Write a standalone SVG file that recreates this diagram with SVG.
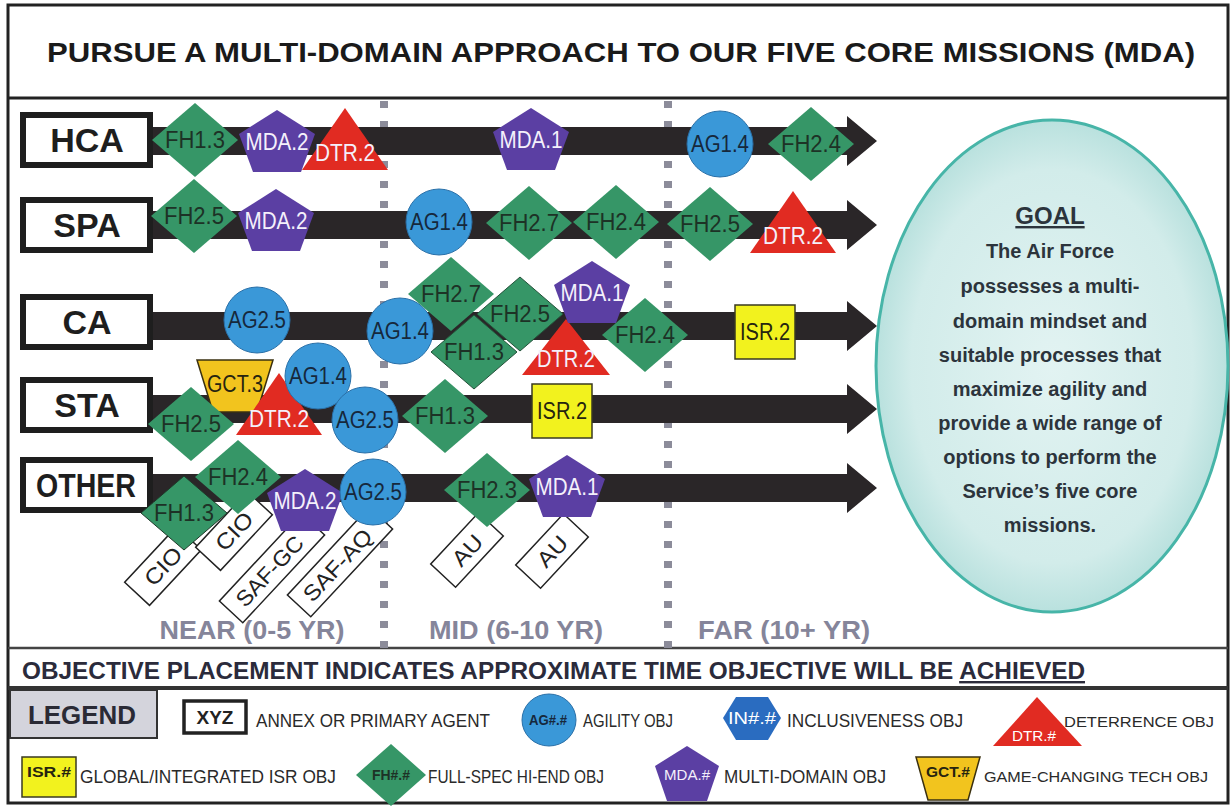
<svg xmlns="http://www.w3.org/2000/svg" xmlns:xlink="http://www.w3.org/1999/xlink" width="1231" height="809" viewBox="0 0 1231 809">
<style>
.t{font-family:"Liberation Sans",Arial,sans-serif;text-anchor:middle}
.rowlbl{font-size:34px;font-weight:bold;fill:#1e1e1e}
.nd{font-size:23px;fill:#1d3226}
.nb{font-size:23px;fill:#16283c}
.nw{font-size:23px;fill:#f4f0fb}
.ny{font-size:23px;fill:#262410}
.dia{fill:#369667}
.pent{fill:#5b3fa3}
.tri{fill:#e12b22}
.circ{fill:#3a98d8;stroke:#2a70a8;stroke-width:1}
.isr{fill:#f2f21e;stroke:#3a3a20;stroke-width:1.5}
.gct{fill:#f2c41e;stroke:#3a3010;stroke-width:1.5}
.lblbox{fill:#fff;stroke:#1e1e1e;stroke-width:6}
.tag{fill:#fff;stroke:#222;stroke-width:1.5}
.tagt{font-size:22px;fill:#222}
.bar{fill:#2a2628}
.div{stroke:#8c8c9a;stroke-width:8;stroke-dasharray:7 13}
.time{font-size:25px;font-weight:bold;fill:#85859a}
.goal{font-size:20px;font-weight:bold;fill:#2c343c}
.leg{font-family:"Liberation Sans",Arial,sans-serif;font-size:18px;fill:#2a2a2a}
.leg2{font-family:"Liberation Sans",Arial,sans-serif;font-size:15.5px;fill:#2a2a2a}
.legs{font-size:14px;font-weight:bold}
</style>
<defs>
<polygon id="dia" class="dia" points="0,-37 43,0 0,37 -43,0"/>
<polygon id="pent" class="pent" points="0,-31 38,-7 24,31 -24,31 -38,-7"/>
<polygon id="tri" class="tri" points="0,-31 43,31 -43,31"/>
<circle id="circ" class="circ" r="33"/>
<rect id="isr" class="isr" x="-30" y="-27" width="60" height="54"/>
<polygon id="gct" class="gct" points="-38,-26 38,-26 22,26 -22,26"/>
<radialGradient id="gg" cx="0.5" cy="0.5" r="0.5">
<stop offset="0" stop-color="#e2f3f2"/>
<stop offset="0.8" stop-color="#d2ecea"/>
<stop offset="1" stop-color="#b9e1de"/>
</radialGradient>
</defs>

<rect x="0" y="0" width="1231" height="809" fill="#fff"/>

<!-- frame -->
<g id="frame">
<rect x="8" y="5" width="1220" height="798" fill="none" stroke="#222" stroke-width="3"/>
<line x1="8" y1="98" x2="1228" y2="98" stroke="#222" stroke-width="3"/>
<line x1="8" y1="648" x2="1228" y2="648" stroke="#444" stroke-width="2.5"/>
<line x1="8" y1="688" x2="1228" y2="688" stroke="#333" stroke-width="4"/>
</g>

<text id="title" class="t" x="621" y="62" font-size="28" font-weight="bold" fill="#1a1a1a" textLength="1148" lengthAdjust="spacingAndGlyphs">PURSUE A MULTI-DOMAIN APPROACH  TO OUR FIVE CORE MISSIONS (MDA)</text>

<!-- time dividers -->
<g id="dividers">
<line class="div" x1="384" y1="101" x2="384" y2="648"/>
<line class="div" x1="668" y1="101" x2="668" y2="648"/>
</g>

<!-- goal -->
<g id="goal">
<ellipse cx="1052" cy="366" rx="176" ry="246" fill="url(#gg)" stroke="#47b5a8" stroke-width="3"/>
<text class="t" x="1050" y="224" font-size="24" font-weight="bold" fill="#2c343c" text-decoration="underline">GOAL</text>
<text class="t goal" x="1050" y="258">The Air Force</text>
<text class="t goal" x="1050" y="293">possesses a multi-</text>
<text class="t goal" x="1050" y="328">domain mindset and</text>
<text class="t goal" x="1050" y="362">suitable processes that</text>
<text class="t goal" x="1050" y="396">maximize agility and</text>
<text class="t goal" x="1050" y="430">provide a wide range of</text>
<text class="t goal" x="1050" y="464">options to perform the</text>
<text class="t goal" x="1050" y="498">Service’s five core</text>
<text class="t goal" x="1050" y="532">missions.</text>
</g>

<!-- timeline arrows -->
<g id="connectors">
<polygon class="bar" points="150,127 847,127 847,116 877,141 847,166 847,155 150,155"/>
<polygon class="bar" points="150,211 847,211 847,200 877,225 847,250 847,239 150,239"/>
<polygon class="bar" points="150,312 847,312 847,301 877,326 847,351 847,340 150,340"/>
<polygon class="bar" points="150,395 847,395 847,384 877,409 847,434 847,423 150,423"/>
<polygon class="bar" points="150,474 847,474 847,463 877,488 847,513 847,502 150,502"/>
</g>

<!-- row labels -->
<g id="row-hca"><rect class="lblbox" x="23" y="115" width="127" height="50"/><text class="t rowlbl" x="87" y="152">HCA</text></g>
<g id="row-spa"><rect class="lblbox" x="23" y="200" width="127" height="50"/><text class="t rowlbl" x="87" y="237">SPA</text></g>
<g id="row-ca"><rect class="lblbox" x="23" y="297" width="127" height="50"/><text class="t rowlbl" x="87" y="334">CA</text></g>
<g id="row-sta"><rect class="lblbox" x="23" y="380" width="127" height="50"/><text class="t rowlbl" x="87" y="417">STA</text></g>
<g id="row-other"><rect class="lblbox" x="23" y="460" width="127" height="50"/><text class="t rowlbl" x="86" y="497" font-size="32" textLength="100" lengthAdjust="spacingAndGlyphs">OTHER</text></g>

<!-- time labels -->
<g id="time-labels">
<text class="t time" x="252" y="639" textLength="185" lengthAdjust="spacingAndGlyphs">NEAR (0-5 YR)</text>
<text class="t time" x="516" y="639" textLength="174" lengthAdjust="spacingAndGlyphs">MID (6-10 YR)</text>
<text class="t time" x="784" y="639" textLength="172" lengthAdjust="spacingAndGlyphs">FAR (10+ YR)</text>
</g>

<!-- agent tags -->
<g id="tag-cio1" transform="translate(163,566) rotate(-47)"><rect class="tag" x="-38" y="-17" width="76" height="34"/><text class="t tagt" y="8" textLength="44" lengthAdjust="spacingAndGlyphs">CIO</text></g>
<g id="tag-cio2" transform="translate(234,531) rotate(-47)"><rect class="tag" x="-38" y="-17" width="76" height="34"/><text class="t tagt" y="8" textLength="44" lengthAdjust="spacingAndGlyphs">CIO</text></g>
<g id="tag-safgc" transform="translate(272,568) rotate(-47)"><rect class="tag" x="-60" y="-16" width="120" height="32"/><text class="t tagt" x="-4" y="8" textLength="88" lengthAdjust="spacingAndGlyphs">SAF-GC</text></g>
<g id="tag-safaq" transform="translate(340,562) rotate(-47)"><rect class="tag" x="-60" y="-16" width="120" height="32"/><text class="t tagt" x="-4" y="8" textLength="90" lengthAdjust="spacingAndGlyphs">SAF-AQ</text></g>
<g id="tag-au1" transform="translate(467,550) rotate(-47)"><rect class="tag" x="-35" y="-17" width="70" height="34"/><text class="t tagt" y="8" textLength="34" lengthAdjust="spacingAndGlyphs">AU</text></g>
<g id="tag-au2" transform="translate(552,551) rotate(-47)"><rect class="tag" x="-35" y="-17" width="70" height="34"/><text class="t tagt" y="8" textLength="34" lengthAdjust="spacingAndGlyphs">AU</text></g>

<!-- HCA nodes -->
<g id="hca-fh13" transform="translate(195,140)"><use href="#dia"/><text class="t nd" y="8" textLength="60" lengthAdjust="spacingAndGlyphs">FH1.3</text></g>
<g id="hca-mda2" transform="translate(277,141)"><use href="#pent"/><text class="t nw" y="9" textLength="63" lengthAdjust="spacingAndGlyphs">MDA.2</text></g>
<g id="hca-dtr2" transform="translate(345,139)"><use href="#tri"/><text class="t nw" y="22" textLength="60" lengthAdjust="spacingAndGlyphs">DTR.2</text></g>
<g id="hca-mda1" transform="translate(531,139)"><use href="#pent"/><text class="t nw" y="9" textLength="63" lengthAdjust="spacingAndGlyphs">MDA.1</text></g>
<g id="hca-ag14" transform="translate(720,144)"><use href="#circ"/><text class="t nb" y="8" textLength="58" lengthAdjust="spacingAndGlyphs">AG1.4</text></g>
<g id="hca-fh24" transform="translate(811,144)"><use href="#dia"/><text class="t nd" y="8" textLength="60" lengthAdjust="spacingAndGlyphs">FH2.4</text></g>

<!-- SPA nodes -->
<g id="spa-fh25a" transform="translate(194,216)"><use href="#dia"/><text class="t nd" y="8" textLength="60" lengthAdjust="spacingAndGlyphs">FH2.5</text></g>
<g id="spa-mda2" transform="translate(276,220)"><use href="#pent"/><text class="t nw" y="9" textLength="63" lengthAdjust="spacingAndGlyphs">MDA.2</text></g>
<g id="spa-ag14" transform="translate(439,222)"><use href="#circ"/><text class="t nb" y="8" textLength="58" lengthAdjust="spacingAndGlyphs">AG1.4</text></g>
<g id="spa-fh27" transform="translate(529,223)"><use href="#dia"/><text class="t nd" y="8" textLength="60" lengthAdjust="spacingAndGlyphs">FH2.7</text></g>
<g id="spa-fh24" transform="translate(616,222)"><use href="#dia"/><text class="t nd" y="8" textLength="60" lengthAdjust="spacingAndGlyphs">FH2.4</text></g>
<g id="spa-fh25b" transform="translate(710,224)"><use href="#dia"/><text class="t nd" y="8" textLength="60" lengthAdjust="spacingAndGlyphs">FH2.5</text></g>
<g id="spa-dtr2" transform="translate(793,222)"><use href="#tri"/><text class="t nw" y="22" textLength="60" lengthAdjust="spacingAndGlyphs">DTR.2</text></g>

<!-- CA nodes -->
<g id="ca-ag25" transform="translate(257,320)"><use href="#circ"/><text class="t nb" y="8" textLength="58" lengthAdjust="spacingAndGlyphs">AG2.5</text></g>
<g id="ca-ag14" transform="translate(400,331)"><use href="#circ"/><text class="t nb" y="8" textLength="58" lengthAdjust="spacingAndGlyphs">AG1.4</text></g>
<g id="ca-fh27" transform="translate(451,294)"><use href="#dia"/><text class="t nd" y="8" textLength="60" lengthAdjust="spacingAndGlyphs">FH2.7</text></g>
<g id="ca-fh13" transform="translate(474,352)"><use href="#dia" stroke="#24523a" stroke-width="1"/><text class="t nd" y="8" textLength="60" lengthAdjust="spacingAndGlyphs">FH1.3</text></g>
<g id="ca-fh25" transform="translate(520,314)"><use href="#dia" stroke="#24523a" stroke-width="1"/><text class="t nd" y="8" textLength="60" lengthAdjust="spacingAndGlyphs">FH2.5</text></g>
<g id="ca-dtr2" transform="translate(566,347)"><polygon class="tri" points="0,-28 44,28 -44,28"/><text class="t nw" y="20" textLength="58" lengthAdjust="spacingAndGlyphs">DTR.2</text></g>
<g id="ca-mda1" transform="translate(592,292)"><use href="#pent"/><text class="t nw" y="9" textLength="63" lengthAdjust="spacingAndGlyphs">MDA.1</text></g>
<g id="ca-fh24" transform="translate(645,335)"><use href="#dia"/><text class="t nd" y="8" textLength="60" lengthAdjust="spacingAndGlyphs">FH2.4</text></g>
<g id="ca-isr2" transform="translate(765,332)"><use href="#isr"/><text class="t ny" y="8" textLength="50" lengthAdjust="spacingAndGlyphs">ISR.2</text></g>

<!-- STA nodes -->
<g id="sta-gct3" transform="translate(235,386)"><use href="#gct"/><text class="t ny" y="6" textLength="56" lengthAdjust="spacingAndGlyphs">GCT.3</text></g>
<g id="sta-fh25" transform="translate(191,424)"><use href="#dia"/><text class="t nd" y="8" textLength="60" lengthAdjust="spacingAndGlyphs">FH2.5</text></g>
<g id="sta-dtr2" transform="translate(279,404)"><use href="#tri"/><text class="t nw" y="23" textLength="60" lengthAdjust="spacingAndGlyphs">DTR.2</text></g>
<g id="sta-ag14" transform="translate(318,376)"><use href="#circ"/><text class="t nb" y="8" textLength="58" lengthAdjust="spacingAndGlyphs">AG1.4</text></g>
<g id="sta-ag25" transform="translate(365,420)"><use href="#circ"/><text class="t nb" y="8" textLength="58" lengthAdjust="spacingAndGlyphs">AG2.5</text></g>
<g id="sta-fh13" transform="translate(445,416)"><use href="#dia"/><text class="t nd" y="8" textLength="60" lengthAdjust="spacingAndGlyphs">FH1.3</text></g>
<g id="sta-isr2" transform="translate(562,411)"><use href="#isr"/><text class="t ny" y="8" textLength="50" lengthAdjust="spacingAndGlyphs">ISR.2</text></g>

<!-- OTHER nodes -->
<g id="oth-fh24" transform="translate(238,477)"><use href="#dia"/><text class="t nd" y="8" textLength="60" lengthAdjust="spacingAndGlyphs">FH2.4</text></g>
<g id="oth-fh13" transform="translate(184,513)"><use href="#dia" stroke="#1e3a2a" stroke-width="1"/><text class="t nd" y="8" textLength="60" lengthAdjust="spacingAndGlyphs">FH1.3</text></g>
<g id="oth-mda2" transform="translate(305,500)"><use href="#pent"/><text class="t nw" y="9" textLength="63" lengthAdjust="spacingAndGlyphs">MDA.2</text></g>
<g id="oth-ag25" transform="translate(373,492)"><use href="#circ"/><text class="t nb" y="8" textLength="58" lengthAdjust="spacingAndGlyphs">AG2.5</text></g>
<g id="oth-fh23" transform="translate(487,490)"><use href="#dia"/><text class="t nd" y="8" textLength="60" lengthAdjust="spacingAndGlyphs">FH2.3</text></g>
<g id="oth-mda1" transform="translate(567,486)"><use href="#pent"/><text class="t nw" y="9" textLength="63" lengthAdjust="spacingAndGlyphs">MDA.1</text></g>

<!-- note -->
<text id="note" x="22" y="679" font-family="Liberation Sans, Arial, sans-serif" font-size="24" font-weight="bold" fill="#2b2b3b" textLength="1063" lengthAdjust="spacingAndGlyphs">OBJECTIVE PLACEMENT INDICATES APPROXIMATE TIME OBJECTIVE WILL BE <tspan text-decoration="underline">ACHIEVED</tspan></text>

<!-- legend -->
<g id="legend">
<g id="leg-title"><rect x="10" y="690" width="147" height="48" fill="#d4d4dc" stroke="#333" stroke-width="2"/><text class="t" x="82" y="724" font-size="26" font-weight="bold" fill="#2a2a35" textLength="108" lengthAdjust="spacingAndGlyphs">LEGEND</text></g>
<g id="leg-agent"><rect x="184" y="701" width="62" height="32" fill="#fff" stroke="#222" stroke-width="3.5"/><text class="t" x="215" y="724" font-size="19" font-weight="bold" fill="#222">XYZ</text><text class="leg" x="256" y="727" textLength="234" lengthAdjust="spacingAndGlyphs">ANNEX OR PRIMARY AGENT</text></g>
<g id="leg-ag"><ellipse cx="549" cy="720" rx="27" ry="26" class="circ"/><text class="t legs" x="548" y="725" fill="#16283c" textLength="38" lengthAdjust="spacingAndGlyphs">AG#.#</text><text class="leg" x="583" y="727" textLength="90" lengthAdjust="spacingAndGlyphs">AGILITY OBJ</text></g>
<g id="leg-in"><polygon points="723,718 736,697 768,697 781,718 768,740 736,740" fill="#2a6cc0"/><text class="t" x="752" y="724" font-size="17" fill="#fff" textLength="48" lengthAdjust="spacingAndGlyphs">IN#.#</text><text class="leg" x="787" y="727" textLength="176" lengthAdjust="spacingAndGlyphs">INCLUSIVENESS OBJ</text></g>
<g id="leg-dtr"><polygon class="tri" points="1037,697 1082,746 993,746"/><text class="t" x="1034" y="741" fill="#fff" font-size="15" textLength="44" lengthAdjust="spacingAndGlyphs">DTR.#</text><text class="leg2" x="1064" y="727" textLength="150" lengthAdjust="spacingAndGlyphs">DETERRENCE OBJ</text></g>
<g id="leg-isr"><rect x="22" y="757" width="54" height="40" class="isr"/><text class="t legs" x="49" y="777" font-size="15" fill="#262410" textLength="44" lengthAdjust="spacingAndGlyphs">ISR.#</text><text class="leg" x="80" y="783" textLength="256" lengthAdjust="spacingAndGlyphs">GLOBAL/INTEGRATED  ISR OBJ</text></g>
<g id="leg-fh"><polygon class="dia" points="391,744 426,775 391,806 356,775"/><text class="t legs" x="391" y="780" fill="#1d3226" textLength="38" lengthAdjust="spacingAndGlyphs">FH#.#</text><text class="leg" x="428" y="783" textLength="176" lengthAdjust="spacingAndGlyphs">FULL-SPEC HI-END OBJ</text></g>
<g id="leg-mda"><polygon class="pent" points="687,746 719,766 707,801 667,801 655,766"/><text class="t" x="687" y="780" font-size="15" fill="#f4f0fb" textLength="46" lengthAdjust="spacingAndGlyphs">MDA.#</text><text class="leg" x="724" y="783" textLength="162" lengthAdjust="spacingAndGlyphs">MULTI-DOMAIN  OBJ</text></g>
<g id="leg-gct"><polygon class="gct" points="916,757 980,757 968,800 928,800"/><text class="t legs" x="948" y="777" font-size="15" fill="#262410" textLength="44" lengthAdjust="spacingAndGlyphs">GCT.#</text><text class="leg2" x="984" y="782" textLength="224" lengthAdjust="spacingAndGlyphs">GAME-CHANGING TECH OBJ</text></g>
</g>
</svg>
